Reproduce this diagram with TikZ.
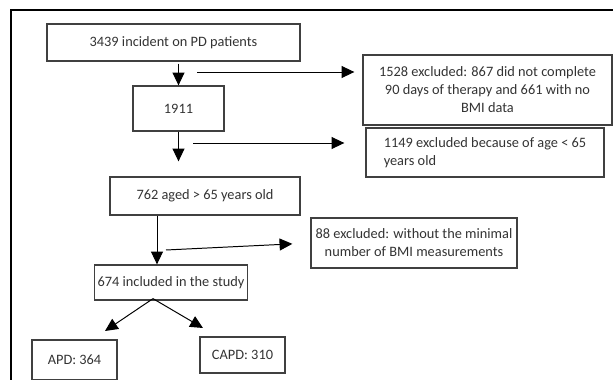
\documentclass[tikz,border=0pt]{standalone}
\usepackage{fontspec}
\setmainfont{Carlito}
\usetikzlibrary{arrows.meta,calc}

\begin{document}
\begin{tikzpicture}[x=0.025cm, y=-0.025cm,
    every node/.style={font=\fontsize{10.2}{12.8}\selectfont, text=black!80},
    flowbox/.style={draw=black!75, line width=0.9pt, inner sep=2pt},
    flowarrow/.style={-{Triangle[length=0.32cm, width=0.3cm]}, line width=0.7pt}]
    % Draw frame and boxes
    \useasboundingbox (0,0) rectangle (613,380);
    \draw[line width=1.2pt] (613,10) -- (11,10) -- (11,380);
    \node[flowbox, minimum width=6.325cm, minimum height=0.925cm] (incident) at (173.5,42.5) {3439 incident on PD patients};
    \node[flowbox, minimum width=2.275cm, minimum height=1.125cm] (n1911) at (178.5,108.5) {1911};
    \node[flowbox, minimum width=6.225cm, minimum height=1.75cm, align=center] (excl1) at (487.5,90) {1528 excluded: 867 did not complete\\90 days of therapy and 661 with no\\BMI data};
    \node[flowbox, minimum width=5.95cm, minimum height=1.225cm, align=left] (excl2) at (485,152.5) {1149 excluded because of age < 65\\years old};
    \node[flowbox, minimum width=4.75cm, minimum height=0.95cm] (aged) at (205,196) {762 aged > 65 years old};
    \node[flowbox, minimum width=5.15cm, minimum height=1.25cm, align=center] (excl3) at (414,243) {88 excluded: without the minimal\\number of BMI measurements};
    \node[flowbox, minimum width=3.75cm, minimum height=0.875cm] (included) at (171,282.5) {674 included in the study};
    \node[flowbox, minimum width=2.125cm, minimum height=1.0cm] (apd) at (74.5,360) {APD: 364};
    \node[flowbox, minimum width=2.125cm, minimum height=0.9cm] (capd) at (242.5,355) {CAPD: 310};

    % Arrows
    \draw[flowarrow] ($(incident.south -| n1911.north)+(0,2)$) -- (n1911.north);
    \draw[flowarrow, shorten >=0.375cm] (n1911.south) -- (n1911.south |- aged.north);
    \coordinate (stem) at ($(aged.south)+(-48,0)$);
    \draw[flowarrow] (stem) -- (stem |- included.north);
    \coordinate (branch1) at (197,72);
    \coordinate (branch2) at (193,143);
    \coordinate (branch3) at (166,250);
    \draw[flowarrow, shorten >=0.2cm] (branch1) -- (branch1 -| excl1.west);
    \draw[flowarrow, shorten >=0.525cm] (branch2) -- (branch2 -| excl2.west);
    \draw[flowarrow, shorten >=0.45cm] (branch3) -- (excl3.west);
    \coordinate (fork) at ($(included.south)+(-18,-2)$);
    \coordinate (tipapd) at (105,331);
    \coordinate (tipcapd) at (203,328);
    \draw[flowarrow] (fork) -- (tipapd);
    \draw[flowarrow] (fork) -- (tipcapd);
\end{tikzpicture}
\end{document}
